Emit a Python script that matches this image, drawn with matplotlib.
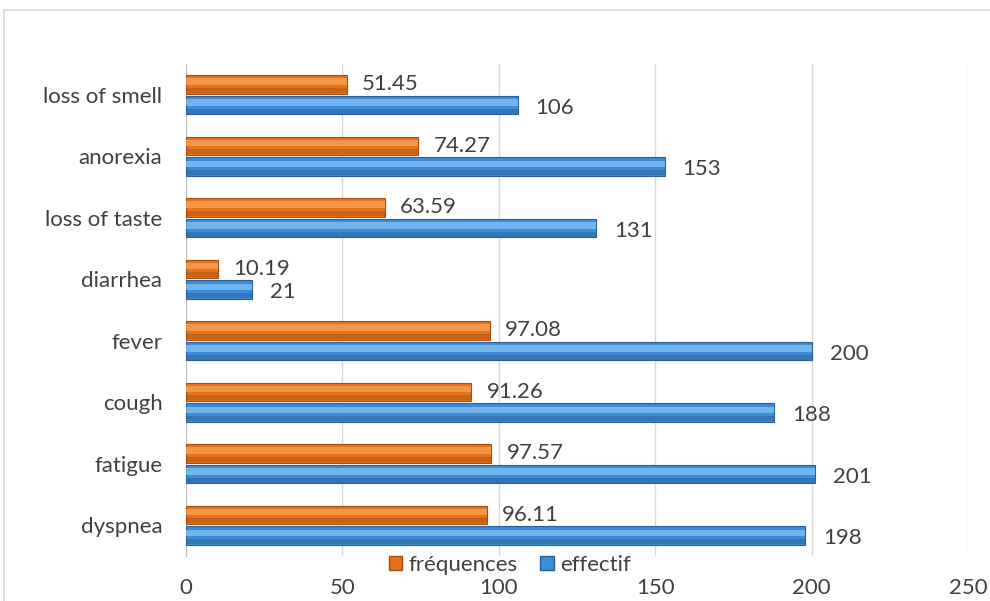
import matplotlib.pyplot as plt
import numpy as np
from matplotlib.patches import Rectangle, Patch

categories = ["dyspnea", "fatigue", "cough", "fever", "diarrhea",
              "loss of taste", "anorexia", "loss of smell"]
frequences = [96.11, 97.57, 91.26, 97.08, 10.19, 63.59, 74.27, 51.45]
effectif = [198, 201, 188, 200, 21, 131, 153, 106]
freq_labels = ["96.11", "97.57", "91.26", "97.08", "10.19", "63.59", "74.27", "51.45"]
xticks = [0, 50, 100, 150, 200, 250]

plt.rcParams['font.family'] = ['Lato', 'DejaVu Sans']
TXT = '#404040'
FS = 16

fig = plt.figure(figsize=(9.9, 6.01), dpi=100)
ax = fig.add_axes([186 / 990, 1 - 556 / 601, (968 - 186) / 990, (556 - 64) / 601])

# outer chart border (light gray, cropped on right/bottom)
fig.patches.append(Rectangle((4 / 990, -0.1), 1.2, 1 - 10 / 601 + 0.1,
                             transform=fig.transFigure, fill=False,
                             edgecolor='#D9D9D9', linewidth=1.2, zorder=0))

y = np.arange(len(categories))
h = 0.3


def bevel_bar(yc, vals, base, light, dark):
    # main body, soft highlight, darker lower band to fake Excel's 3D bevel
    ax.barh(yc, vals, height=h, color=base, edgecolor=dark, linewidth=0.8, zorder=3)
    ax.barh(yc + h * 0.15, vals, height=h * 0.35, color=light, alpha=0.8, linewidth=0, zorder=4)
    ax.barh(yc - h * 0.33, vals, height=h * 0.26, color=dark, alpha=0.45, linewidth=0, zorder=4)


y_or = y + h / 2 + 0.02
y_bl = y - h / 2 - 0.02
bevel_bar(y_or, frequences, '#E8711C', '#F7A052', '#A44E12')
bevel_bar(y_bl, effectif, '#3D8BD9', '#7DC0F0', '#2A5E94')

for yi, v, lab in zip(y_or, frequences, freq_labels):
    ax.annotate(lab, (v, yi), xytext=(11, 0), textcoords='offset points',
                va='center', ha='left', fontsize=FS, color=TXT)
for yi, v in zip(y_bl, effectif):
    ax.annotate(str(v), (v, yi), xytext=(13, -2), textcoords='offset points',
                va='center', ha='left', fontsize=FS, color=TXT)

ax.set_xlim(0, 250)
ax.set_ylim(-0.5, len(categories) - 0.5)
ax.set_xticks(xticks)
ax.set_xticklabels([str(t) for t in xticks], fontsize=FS, color=TXT)
ax.set_yticks(y)
ax.set_yticklabels(categories, fontsize=FS, color=TXT)
ax.tick_params(length=0)
ax.tick_params(axis='x', pad=16)
ax.tick_params(axis='y', pad=17)
ax.grid(axis='x', color='#D9D9D9', linewidth=1, zorder=0)
ax.set_axisbelow(True)
for s in ['top', 'right', 'bottom']:
    ax.spines[s].set_visible(False)
ax.spines['left'].set_color('#BFBFBF')

handles = [Patch(facecolor='#E8711C', edgecolor='#A44E12', label='fréquences'),
           Patch(facecolor='#3D8BD9', edgecolor='#2A5E94', label='effectif')]
fig.legend(handles=handles, loc='center', bbox_to_anchor=(510 / 990, 1 - 565 / 601),
           ncol=2, frameon=False, fontsize=FS, handlelength=0.6, handleheight=0.6,
           handletextpad=0.3, columnspacing=1.0, labelcolor=TXT)

fig.savefig('out.png', dpi=100)
